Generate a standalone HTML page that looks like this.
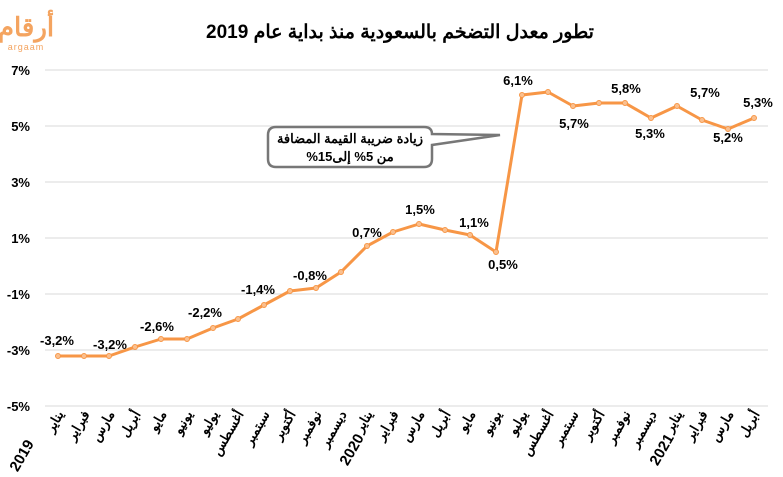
<!DOCTYPE html>
<html><head><meta charset="utf-8"><style>body{margin:0;background:#fff}svg{display:block}</style></head><body>
<svg width="783" height="477" xmlns="http://www.w3.org/2000/svg" font-family="Liberation Sans, 'Noto Sans CJK SC', sans-serif">
<rect width="783" height="477" fill="#fff"/>
<text x="400" y="38" text-anchor="middle" font-size="19" font-weight="bold" direction="rtl">تطور معدل التضخم بالسعودية منذ بداية عام 2019</text>
<text x="26" y="36" text-anchor="middle" font-size="26" font-weight="bold" fill="#f4a460" direction="rtl">أرقام</text>
<text x="26" y="50" text-anchor="middle" font-size="9" fill="#f4a460" letter-spacing="1">argaam</text>
<g stroke="#d9d9d9" stroke-width="1">
<line x1="45" x2="768" y1="70" y2="70"/><line x1="45" x2="768" y1="126" y2="126"/><line x1="45" x2="768" y1="182" y2="182"/><line x1="45" x2="768" y1="238" y2="238"/><line x1="45" x2="768" y1="294" y2="294"/><line x1="45" x2="768" y1="350" y2="350"/><line x1="45" x2="768" y1="406" y2="406"/>
</g>
<g font-size="13" font-weight="bold" text-anchor="end">
<text x="30" y="75">7%</text><text x="30" y="131">5%</text><text x="30" y="187">3%</text><text x="30" y="243">1%</text><text x="30" y="299">-1%</text><text x="30" y="355">-3%</text><text x="30" y="411">-5%</text>
</g>
<polyline fill="none" stroke="#f79646" stroke-width="3" stroke-linejoin="round" points="58,356 84,356 109,356 135,347 161,339 187,339 213,328 238,319 264,305 290,291 316,288 341,272 367,246 393,232 419,224 445,230 470,235 496,252 522,95 548,92 573,106 599,103 625,103 651,118 677,106 702,120 728,129 754,118"/>
<g fill="#fac090" stroke="#f79646" stroke-width="1">
<circle cx="58" cy="356" r="2.5"/><circle cx="84" cy="356" r="2.5"/><circle cx="109" cy="356" r="2.5"/><circle cx="135" cy="347" r="2.5"/><circle cx="161" cy="339" r="2.5"/><circle cx="187" cy="339" r="2.5"/><circle cx="213" cy="328" r="2.5"/><circle cx="238" cy="319" r="2.5"/><circle cx="264" cy="305" r="2.5"/><circle cx="290" cy="291" r="2.5"/><circle cx="316" cy="288" r="2.5"/><circle cx="341" cy="272" r="2.5"/><circle cx="367" cy="246" r="2.5"/><circle cx="393" cy="232" r="2.5"/><circle cx="419" cy="224" r="2.5"/><circle cx="445" cy="230" r="2.5"/><circle cx="470" cy="235" r="2.5"/><circle cx="496" cy="252" r="2.5"/><circle cx="522" cy="95" r="2.5"/><circle cx="548" cy="92" r="2.5"/><circle cx="573" cy="106" r="2.5"/><circle cx="599" cy="103" r="2.5"/><circle cx="625" cy="103" r="2.5"/><circle cx="651" cy="118" r="2.5"/><circle cx="677" cy="106" r="2.5"/><circle cx="702" cy="120" r="2.5"/><circle cx="728" cy="129" r="2.5"/><circle cx="754" cy="118" r="2.5"/>
</g>
<g font-size="13" font-weight="bold" text-anchor="middle">
<text x="57" y="345">-3,2%</text><text x="110" y="349">-3,2%</text><text x="157" y="331">-2,6%</text><text x="205" y="317">-2,2%</text><text x="258" y="294">-1,4%</text><text x="310" y="280">-0,8%</text><text x="367" y="237">0,7%</text><text x="420" y="214">1,5%</text><text x="474" y="227">1,1%</text><text x="503" y="269">0,5%</text><text x="518" y="85">6,1%</text><text x="574" y="128">5,7%</text><text x="626" y="93">5,8%</text><text x="650" y="138">5,3%</text><text x="705" y="97">5,7%</text><text x="728" y="142">5,2%</text><text x="758" y="107">5,3%</text>
</g>
<path d="M276,127 H424 Q432,127 432,134 L500,135 L432,145 V159 Q432,167 424,167 H276 Q268,167 268,159 V135 Q268,127 276,127 Z" fill="#fff" stroke="#777" stroke-width="2.5"/>
<text x="350" y="143" text-anchor="middle" font-size="13" font-weight="bold" direction="rtl">زيادة ضريبة القيمة المضافة</text>
<text x="350" y="161" text-anchor="middle" font-size="13" font-weight="bold" direction="rtl">من 5% إلى15%</text>
<g font-size="13" font-weight="bold" text-anchor="end">
<text transform="translate(64,414) rotate(-60)">يناير</text>
<text transform="translate(90,414) rotate(-60)">فبراير</text>
<text transform="translate(115,414) rotate(-60)">مارس</text>
<text transform="translate(141,414) rotate(-60)">أبريل</text>
<text transform="translate(167,414) rotate(-60)">مايو</text>
<text transform="translate(193,414) rotate(-60)">يونيو</text>
<text transform="translate(219,414) rotate(-60)">يوليو</text>
<text transform="translate(244,414) rotate(-60)">أغسطس</text>
<text transform="translate(270,414) rotate(-60)">سبتمبر</text>
<text transform="translate(296,414) rotate(-60)">أكتوبر</text>
<text transform="translate(322,414) rotate(-60)">نوفمبر</text>
<text transform="translate(347,414) rotate(-60)">ديسمبر</text>
<text transform="translate(373,414) rotate(-60)">يناير</text>
<text transform="translate(399,414) rotate(-60)">فبراير</text>
<text transform="translate(425,414) rotate(-60)">مارس</text>
<text transform="translate(451,414) rotate(-60)">أبريل</text>
<text transform="translate(476,414) rotate(-60)">مايو</text>
<text transform="translate(502,414) rotate(-60)">يونيو</text>
<text transform="translate(528,414) rotate(-60)">يوليو</text>
<text transform="translate(554,414) rotate(-60)">أغسطس</text>
<text transform="translate(579,414) rotate(-60)">سبتمبر</text>
<text transform="translate(605,414) rotate(-60)">أكتوبر</text>
<text transform="translate(631,414) rotate(-60)">نوفمبر</text>
<text transform="translate(657,414) rotate(-60)">ديسمبر</text>
<text transform="translate(683,414) rotate(-60)">يناير</text>
<text transform="translate(708,414) rotate(-60)">فبراير</text>
<text transform="translate(734,414) rotate(-60)">مارس</text>
<text transform="translate(760,414) rotate(-60)">أبريل</text>
</g>
<g font-size="15" font-weight="bold" text-anchor="middle">
<text transform="translate(26,458) rotate(-60)">2019</text>
<text transform="translate(356,452) rotate(-60)">2020</text>
<text transform="translate(666,452) rotate(-60)">2021</text>
</g>
</svg>
</body></html>
